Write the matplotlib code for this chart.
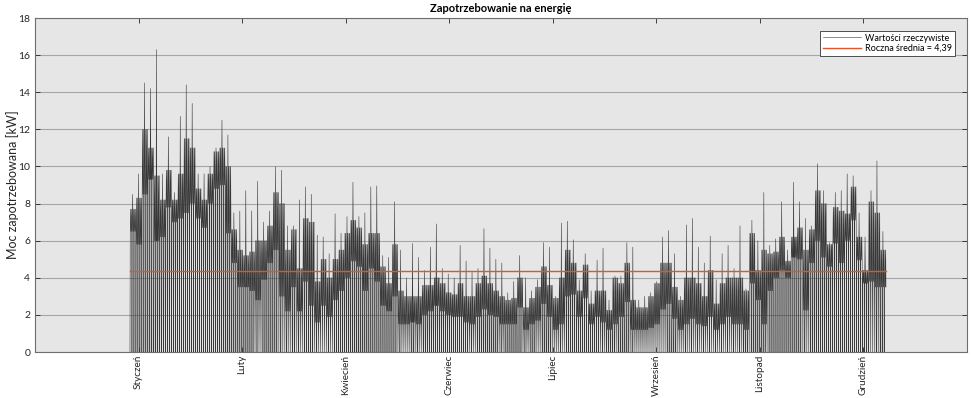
import numpy as np
import matplotlib
matplotlib.use('Agg')
import matplotlib.pyplot as plt

plt.rcParams['font.family'] = ['Lato', 'DejaVu Sans']

months = ['Styczeń', 'Luty', 'Kwiecień', 'Czerwiec', 'Lipiec', 'Wrzesień', 'Listopad', 'Grudzień']
month_ticks = [1000, 2000, 3000, 4000, 5000, 6000, 7000, 8000]
annual_mean = 4.39

# envelope of the measured demand, read in ~2.9-day blocks
peak = [8.5, 9.6, 14.5, 14.2, 16.3, 9.6, 11.6, 8.6, 12.7, 14.4,
        13.4, 9.6, 9.6, 10.0, 11.0, 12.5, 11.7, 7.5, 7.6, 8.7,
        7.6, 9.2, 7.0, 7.6, 10.0, 9.8, 6.8, 6.8, 8.2, 8.9,
        8.5, 6.3, 6.2, 5.3, 7.45, 6.4, 7.3, 9.15, 7.3, 7.5,
        8.9, 8.95, 5.2, 5.1, 8.1, 5.5, 4.0, 5.85, 5.1, 4.4,
        5.65, 6.9, 4.5, 4.2, 4.0, 5.75, 4.9, 4.3, 4.5, 6.65,
        5.6, 5.0, 4.8, 3.2, 3.8, 5.2, 4.0, 3.3, 3.9, 5.9,
        5.65, 3.0, 6.95, 7.05, 6.05, 3.9, 5.3, 3.3, 4.95, 5.6,
        2.8, 4.1, 4.1, 5.9, 5.65, 2.8, 3.0, 3.2, 3.8, 6.2,
        6.55, 5.3, 3.0, 6.85, 7.2, 5.65, 4.8, 6.25, 3.9, 5.3,
        5.75, 4.5, 6.8, 3.4, 7.1, 6.0, 8.6, 5.75, 6.1, 8.1,
        5.5, 9.15, 8.1, 7.2, 6.8, 10.15, 8.7, 5.9, 8.6, 8.7,
        9.6, 9.5, 7.5, 6.2, 8.7, 10.3, 6.5]
band_hi = [7.7, 8.3, 12.0, 11.0, 9.5, 8.2, 9.8, 8.2, 9.6, 11.5,
           11.0, 8.8, 8.2, 9.6, 10.8, 11.0, 10.0, 6.6, 5.5, 5.2,
           5.4, 6.0, 6.0, 6.8, 8.6, 8.0, 5.5, 6.6, 4.5, 7.2,
           7.0, 3.8, 5.0, 4.0, 5.0, 5.5, 6.4, 7.1, 6.7, 5.8,
           6.4, 6.4, 4.6, 3.7, 5.8, 3.3, 3.0, 3.0, 3.0, 3.6,
           3.6, 4.0, 3.7, 3.2, 3.1, 3.7, 3.0, 3.0, 3.7, 4.1,
           3.7, 3.3, 3.0, 2.8, 2.9, 4.0, 2.4, 2.9, 3.5, 4.6,
           3.6, 2.9, 4.0, 5.5, 4.8, 3.3, 4.7, 2.6, 3.3, 3.3,
           2.25, 4.0, 3.7, 4.8, 2.8, 2.4, 2.4, 3.0, 3.7, 4.8,
           4.8, 3.5, 2.8, 4.0, 4.0, 3.7, 3.0, 4.4, 2.6, 3.7,
           4.0, 4.0, 4.0, 3.3, 6.4, 4.4, 5.5, 5.3, 5.4, 6.2,
           4.9, 6.2, 6.7, 5.5, 6.6, 8.7, 8.0, 5.8, 7.8, 7.6,
           7.45, 8.9, 6.2, 4.4, 8.1, 7.5, 5.5]
band_lo = [6.5, 5.8, 8.5, 9.3, 6.0, 6.2, 7.8, 7.0, 7.2, 7.5,
           8.0, 7.2, 6.7, 8.0, 8.8, 9.0, 6.4, 4.8, 3.5, 3.5,
           3.3, 2.8, 3.9, 4.8, 5.5, 3.0, 2.2, 3.5, 2.2, 3.8,
           2.5, 1.6, 2.5, 1.9, 2.8, 3.3, 4.0, 4.9, 4.6, 3.3,
           4.5, 3.8, 2.5, 2.2, 3.0, 1.5, 1.5, 1.6, 1.5, 2.0,
           2.2, 2.5, 2.2, 2.0, 1.9, 1.9, 1.6, 1.5, 1.9, 2.3,
           2.0, 1.9, 1.5, 1.5, 1.5, 2.4, 1.2, 1.5, 1.7, 2.6,
           1.9, 1.2, 1.5, 3.0, 3.1, 1.9, 2.9, 1.5, 1.9, 1.6,
           1.2, 1.5, 1.9, 2.7, 1.2, 1.2, 1.2, 1.3, 1.5, 2.3,
           2.6, 1.8, 1.2, 1.5, 1.8, 1.5, 1.4, 1.9, 1.2, 1.5,
           1.9, 1.5, 1.5, 1.2, 3.7, 2.8, 1.5, 3.3, 4.0, 4.4,
           4.0, 5.1, 5.0, 2.25, 4.8, 6.0, 5.1, 4.6, 5.85, 4.8,
           6.0, 7.1, 4.95, 3.7, 3.8, 3.5, 3.5]

x_start = 917.0
block = 57.5
sub = block / 3.0
sub_frac = np.array([0.0, 0.15, 0.35, 0.55, 0.75, 0.9])

xs, ys = [], []
for i, (p, h, l) in enumerate(zip(peak, band_hi, band_lo)):
    base = x_start + i * block
    for k in range(3):
        top = p if k == 1 else h
        xs.extend(base + k * sub + sub_frac * sub)
        ys.extend([0, l, top, l, h, l])
xs = np.array(xs)
ys = np.array(ys)

fig = plt.figure(figsize=(9.71, 3.98), dpi=100)
ax = fig.add_axes([35 / 971, 46 / 398, 932 / 971, 334 / 398])
ax.set_facecolor('#e6e6e6')

line_color = '#383838'
ax.plot(xs, ys, color=line_color, lw=0.4, label='Wartości rzeczywiste', zorder=3)
ax.plot([xs[0], xs[-1]], [annual_mean, annual_mean], color='#e0562a', lw=1.0,
        label='Roczna średnia = ' + f'{annual_mean:.2f}'.replace('.', ','), zorder=4)

ax.set_xlim(0, 9000)
ax.set_ylim(0, 18)
ax.set_yticks(np.arange(0, 19, 2))
ax.set_xticks(month_ticks)
ax.set_xticklabels(months, rotation=90, fontsize=7.2, color='#262626')
ax.tick_params(axis='y', labelsize=7.5, labelcolor='#262626')
ax.tick_params(axis='x', pad=2)
ax.tick_params(direction='in', top=True, right=True, length=3.5, width=0.6, color='#262626')
ax.grid(axis='y', color='#a6a6a6', lw=0.8, zorder=1)
ax.set_axisbelow(True)
for s in ax.spines.values():
    s.set_color('#6e6e6e')
    s.set_linewidth(0.8)

ax.set_ylabel('Moc zapotrzebowana [kW]', fontsize=9.0, color='#262626')
ax.yaxis.set_label_coords(-0.017, 0.5)
ax.set_title('Zapotrzebowanie na energię', fontsize=8, fontweight='bold', color='#000000', pad=4)

leg = ax.legend(loc='upper right', fontsize=6.5, frameon=True, fancybox=False,
                framealpha=1, edgecolor='#333333', handlelength=4.2,
                borderpad=0.3, labelspacing=0.15, handletextpad=0.5,
                bbox_to_anchor=(0.992, 0.975))
leg.get_frame().set_linewidth(0.6)

fig.savefig('out.png', dpi=100, facecolor='white')
